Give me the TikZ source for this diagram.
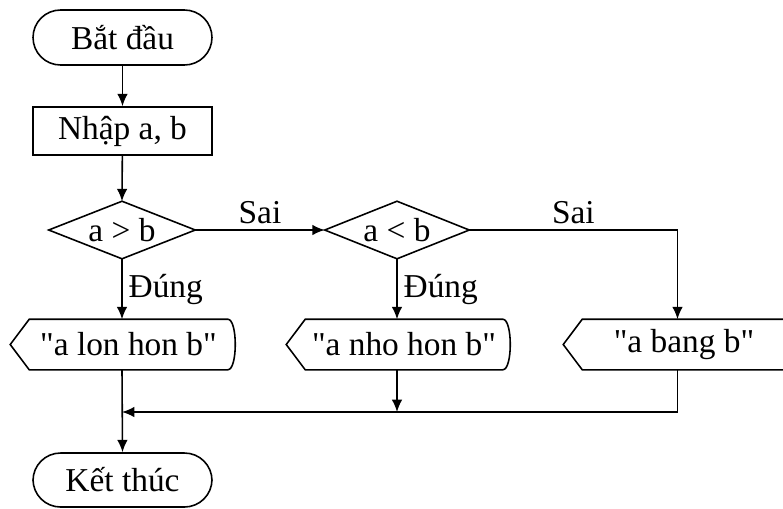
\documentclass[tikz,border=0pt]{standalone}
\usepackage{fontspec}
\setmainfont{Liberation Serif}
\usetikzlibrary{arrows.meta}

\tikzset{
  every node/.style={font=\fontsize{19}{22}\selectfont},
  term/.style={draw, rounded corners=0.55cm, minimum width=3.58cm, minimum height=1.1cm, line width=0.9pt},
  inbox/.style={draw, minimum width=3.58cm, minimum height=0.96cm, line width=0.9pt},
  decide/.style={minimum width=2.9cm, minimum height=1.12cm, inner sep=0pt},
  outbox/.style={minimum height=0.98cm, inner sep=0pt},
  arr/.style={-{Latex[length=7pt,width=6pt]}, line width=0.9pt}
}

\begin{document}
\begin{tikzpicture}[x=0.02cm, y=-0.02cm, line width=0.9pt]
        \useasboundingbox (0,0) rectangle (783,508);
        % start and input
        \node[term] (start) at (122.5,37.5) {Bắt đầu};
        \node[inbox] (input) at (122.5,131) {Nhập a, b};
        % decisions
        \node[decide] (d1) at (122,230) {a > b};
        \node[decide, minimum width=2.86cm] (d2) at (397,230) {a < b};
        \foreach \n in {d1,d2}
        {
            \draw (\n.west) -- (\n.north) -- (\n.east) -- (\n.south) -- cycle;
        }
        % outputs
        \node[outbox, minimum width=3.94cm] (o1) at (128.5,344.5) {\textquotedbl a lon hon b\textquotedbl};
        \node[outbox, minimum width=3.92cm] (o2) at (404,344.5) {\textquotedbl a nho hon b\textquotedbl};
        \node[outbox, minimum width=4.04cm] (o3) at (684,344.5) {\textquotedbl a bang b\textquotedbl};
        \foreach \n in {o1,o2,o3}
        {
            \draw ([xshift=-0.38cm]\n.west) -- (\n.north west) -- (\n.north east)
                .. controls ([xshift=0.2cm]\n.north east) and ([xshift=0.2cm]\n.south east) .. (\n.south east)
                -- (\n.south west) -- cycle;
        }
        % end
        \node[term, minimum height=1.08cm] (stop) at (122.5,480) {Kết thúc};
        \coordinate (c3) at (677.5,230);
        \coordinate (m) at (122,412);
        % connectors
        \draw[arr] (start) -- (input);
        \draw[arr] (input) -- (d1.north);
        \draw[arr] (d1.east) -- node[above] {Sai} (d2.west);
        \draw[arr] (d1.south) -- node[right] {Đúng} (d1.south |- o1.north);
        \draw[arr] (d2.south) -- node[right] {Đúng} (d2.south |- o2.north);
        \draw[arr] (d2.east) -- node[above] {Sai} (c3) -- (c3 |- o3.north);
        \draw[arr] (d2.south |- o2.south) -- (d2.south |- m);
        \draw[arr] (c3 |- o3.south) |- (m);
        \draw[arr] (d1.south |- o1.south) -- (stop.north);
    \end{tikzpicture}
\end{document}
